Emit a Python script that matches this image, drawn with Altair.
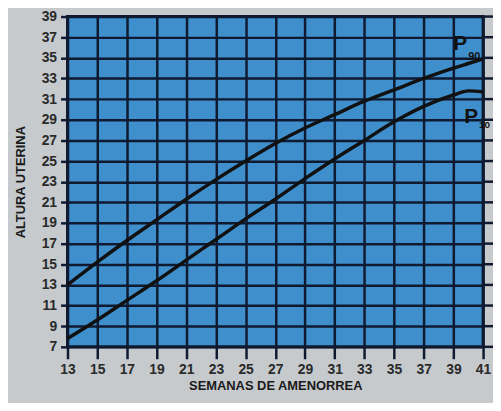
import altair as alt
import pandas as pd

weeks = [13, 15, 17, 19, 21, 23, 25, 27, 29, 31, 33, 35, 37, 39, 40, 41]
p90 = [13.0, 15.2, 17.3, 19.3, 21.3, 23.2, 25.0, 26.7, 28.2, 29.5, 30.8, 31.9, 33.0, 34.0, 34.45, 34.9]
p10 = [7.8, 9.6, 11.5, 13.4, 15.4, 17.4, 19.4, 21.3, 23.3, 25.2, 27.0, 28.8, 30.3, 31.4, 31.8, 31.7]
x_ticks = list(range(13, 42, 2))
y_ticks = list(range(7, 40, 2))

df = pd.DataFrame(
    [{"sem": w, "alt": v, "serie": "P90"} for w, v in zip(weeks, p90)]
    + [{"sem": w, "alt": v, "serie": "P10"} for w, v in zip(weeks, p10)]
)
end90 = pd.DataFrame([{"sem": weeks[-1], "alt": p90[-1]}])
end10 = pd.DataFrame([{"sem": weeks[-1], "alt": p10[-1]}])
ytick_df = pd.DataFrame({"alt": y_ticks})

DARK = "#0f1a30"
W, H = 419, 333

xs = alt.Scale(domain=[13, 41], nice=False, zero=False)
ys = alt.Scale(domain=[7, 39], nice=False, zero=False)

x_axis = alt.Axis(values=x_ticks, tickCount=50, format="d", title="SEMANAS DE AMENORREA", grid=True,
                  tickSize=12, labelPadding=4, titlePadding=3,
                  labelOverlap=False, labelFlush=False)
y_axis = alt.Axis(values=y_ticks, tickCount=50, format="d", title="ALTURA UTERINA", grid=True,
                  tickSize=7, labelPadding=4, titlePadding=14,
                  labelOverlap=False, labelFlush=False)

lines = alt.Chart(df).mark_line(
    color="#111111", strokeWidth=3.5, interpolate="monotone"
).encode(
    x=alt.X("sem:Q", scale=xs, axis=x_axis),
    y=alt.Y("alt:Q", scale=ys, axis=y_axis),
    detail="serie:N",
)

ext = alt.Chart(ytick_df).mark_rule(color=DARK, strokeWidth=2.5, clip=False).encode(
    y=alt.Y("alt:Q", scale=ys), x=alt.value(W), x2=alt.value(W + 14)
)

def lab(d, text, size, dx, dy, align):
    return alt.Chart(d).mark_text(
        text=text, fontSize=size, fontWeight="bold", font="Liberation Sans",
        color="#111111", dx=dx, dy=dy, align=align, baseline="alphabetic", clip=False
    ).encode(x=alt.X("sem:Q", scale=xs), y=alt.Y("alt:Q", scale=ys))

labels = (
    lab(end90, "P", 21, -30, -9, "left")
    + lab(end90, "90", 11, -15, 1, "left")
    + lab(end10, "P", 21, -19, 31, "left")
    + lab(end10, "10", 10, -4, 36, "left")
)

chart = alt.layer(ext, lines, labels).properties(
    width=W, height=H,
    autosize=alt.AutoSizeParams(type="none"),
    padding={"left": 60, "top": 7, "right": 10, "bottom": 55},
    background="#c6cacd",
).configure_view(
    fill="#3f8fcc", stroke=DARK, strokeWidth=3
).configure_axis(
    gridColor=DARK, gridWidth=2.5, gridOpacity=1,
    tickColor=DARK, tickWidth=2.5,
    domain=False,
    labelFont="Liberation Sans", labelFontSize=14, labelFontWeight="bold", labelColor="#2a2a2a",
    titleFont="Liberation Sans", titleFontSize=13, titleFontWeight="bold", titleColor="#1a1a1a",
)

chart.save("out.html", embed_options={"renderer": "svg", "actions": False})
